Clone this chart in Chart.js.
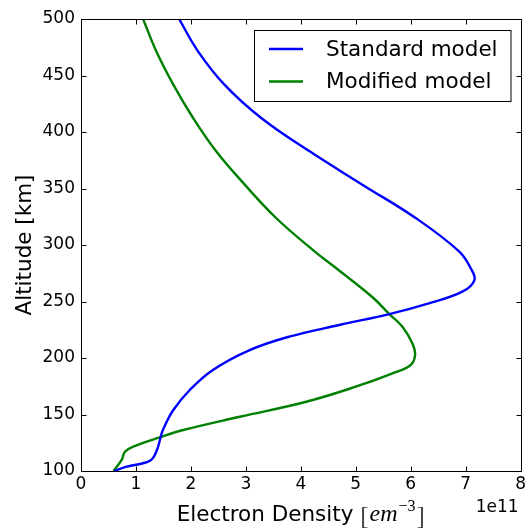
<!DOCTYPE html>
<html>
<head>
<meta charset="utf-8">
<script src="https://cdn.jsdelivr.net/npm/chart.js@4/dist/chart.umd.min.js"></script>
<style>
  html, body { margin: 0; padding: 0; background: #ffffff; }
  #wrap { width: 529px; height: 531px; }
</style>
</head>
<body>
<div id="wrap"><canvas id="c" width="529" height="531"></canvas></div>
<script>
// Electron density profiles (units of 1e11 per cubic metre) against altitude in km
const standardAltitude = [100, 103.8, 108.9, 117, 130, 136.3, 154, 171.7, 189.4, 207, 218.9, 229.2, 238.9, 248.4, 258.7, 269, 279.6, 294.4, 323.9, 353.4, 382.9, 412.4, 441.9, 471.4, 500];
const standardDensity = [0.60, 0.83, 1.25, 1.37, 1.45, 1.49, 1.68, 1.98, 2.40, 3.07, 3.79, 4.70, 5.61, 6.33, 6.94, 7.16, 7.09, 6.88, 6.09, 5.12, 4.16, 3.28, 2.61, 2.13, 1.785];

const modifiedAltitude = [100, 109.8, 117, 121.5, 129.7, 136.3, 148, 161.3, 174.6, 186.4, 193.8, 202.7, 213, 227.7, 238.9, 254, 279.6, 294.4, 323.9, 353.4, 382.9, 412.4, 441.9, 471.4, 500];
const modifiedDensity = [0.59, 0.74, 0.80, 0.95, 1.43, 1.86, 2.89, 4.10, 5.00, 5.67, 6.00, 6.08, 6.03, 5.85, 5.61, 5.30, 4.64, 4.25, 3.55, 2.98, 2.46, 2.04, 1.68, 1.37, 1.13];

const seriesLabels = ['Standard model', 'Modified model'];
const seriesColors = ['#0000ff', '#008000'];

const xTicks = [0, 1, 2, 3, 4, 5, 6, 7, 8];
const yTicks = [100, 150, 200, 250, 300, 350, 400, 450, 500];

const xLabel = 'Electron Density';
const yLabel = 'Altitude [km]';
const xOffsetText = '1e11';

function toPoints(xs, ys) {
  return xs.map((x, i) => ({ x: x, y: ys[i] }));
}

const SANS = '"DejaVu Sans", sans-serif';
const SERIF = '"Liberation Serif", "DejaVu Serif", serif';

// Frame, inward ticks on all four sides, legend box and axis titles
const decorations = {
  id: 'decorations',
  afterDatasetsDraw(chart) {
    const ctx = chart.ctx;
    const a = chart.chartArea;
    const xs = chart.scales.x, ys = chart.scales.y;
    const L = Math.round(a.left) + 0.5, R = Math.round(a.right) + 0.5;
    const T = Math.round(a.top) + 0.5, B = Math.round(a.bottom) + 0.5;
    const tick = 5;
    ctx.save();
    ctx.strokeStyle = '#000';
    ctx.lineWidth = 1;
    ctx.beginPath();
    xTicks.forEach(v => {
      const p = Math.round(xs.getPixelForValue(v)) + 0.5;
      ctx.moveTo(p, B); ctx.lineTo(p, B - tick);
      ctx.moveTo(p, T); ctx.lineTo(p, T + tick);
    });
    yTicks.forEach(v => {
      const p = Math.round(ys.getPixelForValue(v)) + 0.5;
      ctx.moveTo(L, p); ctx.lineTo(L + tick, p);
      ctx.moveTo(R, p); ctx.lineTo(R - tick, p);
    });
    ctx.stroke();
    ctx.strokeRect(L, T, R - L, B - T);

    // legend
    const lx = 254.5, ly = 30.5, lw = 256.5, lh = 71;
    ctx.fillStyle = '#fff';
    ctx.fillRect(lx, ly, lw, lh);
    ctx.strokeRect(lx, ly, lw, lh);
    const rows = [49, 81.5];
    chart.data.datasets.forEach((ds, i) => {
      ctx.strokeStyle = ds.borderColor;
      ctx.lineWidth = 2.4;
      ctx.beginPath();
      ctx.moveTo(269, rows[i]);
      ctx.lineTo(303, rows[i]);
      ctx.stroke();
      ctx.fillStyle = '#000';
      ctx.font = '21.5px ' + SANS;
      ctx.textAlign = 'left';
      ctx.textBaseline = 'middle';
      ctx.fillText(ds.label, 326, rows[i] + 1);
    });

    // x axis title with math units
    ctx.fillStyle = '#000';
    ctx.textBaseline = 'alphabetic';
    ctx.textAlign = 'left';
    const base = 521;
    ctx.font = '21.5px ' + SANS;
    const w1 = ctx.measureText(xLabel + ' ').width;
    ctx.font = '25px ' + SERIF;
    const wb = ctx.measureText('[').width;
    ctx.font = 'italic 24px ' + SERIF;
    const wem = ctx.measureText('em').width;
    ctx.font = '16px ' + SERIF;
    const wsup = ctx.measureText('\u22123').width;
    const total = w1 + wb + 1 + wem + 1 + wsup + 1 + wb;
    let cx = (a.left + a.right) / 2 - total / 2;
    ctx.font = '21.5px ' + SANS;
    ctx.fillText(xLabel + ' ', cx, base); cx += w1;
    ctx.fillStyle = '#444';
    ctx.font = '25px ' + SERIF;
    ctx.fillText('[', cx, base + 3); cx += wb + 1;
    ctx.fillStyle = '#000';
    ctx.font = 'italic 24px ' + SERIF;
    ctx.fillText('em', cx, base); cx += wem + 1;
    ctx.font = '16px ' + SERIF;
    ctx.fillText('\u22123', cx, base - 10); cx += wsup + 1;
    ctx.fillStyle = '#444';
    ctx.font = '25px ' + SERIF;
    ctx.fillText(']', cx, base + 3);

    // offset text of x axis
    ctx.fillStyle = '#000';
    ctx.font = '17px ' + SANS;
    ctx.textAlign = 'right';
    ctx.fillText(xOffsetText, a.right - 2, 512);

    // y axis title
    ctx.save();
    ctx.translate(31, (a.top + a.bottom) / 2);
    ctx.rotate(-Math.PI / 2);
    ctx.textAlign = 'center';
    ctx.font = '21.5px ' + SANS;
    ctx.fillText(yLabel, 0, 0);
    ctx.restore();
    ctx.restore();
  }
};

new Chart(document.getElementById('c'), {
  type: 'line',
  data: {
    datasets: [
      { label: seriesLabels[0], data: toPoints(standardDensity, standardAltitude), borderColor: seriesColors[0] },
      { label: seriesLabels[1], data: toPoints(modifiedDensity, modifiedAltitude), borderColor: seriesColors[1] }
    ].map(d => Object.assign(d, { borderWidth: 2.4, pointRadius: 0, tension: 0.4, fill: false }))
  },
  options: {
    responsive: false,
    animation: false,
    events: [],
    layout: { padding: { top: 19, right: 7, left: 0, bottom: 0 } },
    plugins: { legend: { display: false }, title: { display: false }, tooltip: { enabled: false } },
    scales: {
      x: {
        type: 'linear', min: 0, max: 8,
        afterBuildTicks: s => { s.ticks = xTicks.map(v => ({ value: v })); },
        afterFit: s => { s.height = 60; },
        grid: { display: false, drawTicks: false },
        border: { display: false },
        ticks: { color: '#000', font: { family: SANS, size: 17 }, padding: 3, maxRotation: 0, autoSkip: false }
      },
      y: {
        type: 'linear', min: 100, max: 500,
        afterBuildTicks: s => { s.ticks = yTicks.map(v => ({ value: v })); },
        afterFit: s => { s.width = 81; },
        grid: { display: false, drawTicks: false },
        border: { display: false },
        ticks: { color: '#000', font: { family: SANS, size: 17 }, padding: 6, autoSkip: false }
      }
    }
  },
  plugins: [decorations]
});
</script>
</body>
</html>
